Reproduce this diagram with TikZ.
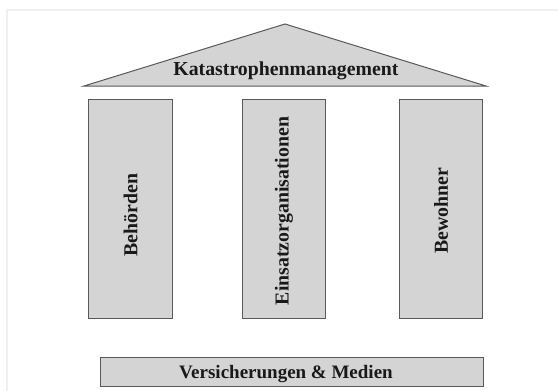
\documentclass[tikz,border=0pt]{standalone}
\usepackage{fontspec}
\setmainfont{Liberation Serif}
\begin{document}
\begin{tikzpicture}[x=1pt,y=-1pt,
  part/.style={draw=black!65, fill=black!17, line width=1pt},
  lbl/.style={font=\bfseries\fontsize{19.8}{22}\selectfont, text=black!90, inner sep=0pt},
  pillar/.style={part, minimum width=84pt, minimum height=219pt, anchor=north west, inner sep=0pt}]
\useasboundingbox (0,0) rectangle (558,391);
\fill[white] (0,0) rectangle (558,391);
\draw[black!6, line width=2pt] (7,391) -- (7,10) -- (558,10);
\draw[part, line join=miter] (84,86) coordinate (rl) -- (285,24) coordinate (ra) -- (486,86) coordinate (rr) -- cycle;
\node[lbl, anchor=base] (roof) at (286,75) {Katastrophenmanagement};
\node[pillar] (p1) at (88,99) {};
\node[pillar, minimum width=83pt] (p2) at (242,99) {};
\node[pillar, minimum width=83pt] (p3) at (399,99) {};
\node[lbl, rotate=90] (t1) at ([yshift=-6pt]p1.center) {Behörden};
\node[lbl, rotate=90] (t2) at ([yshift=-2pt]p2.center) {Einsatzorganisationen};
\node[lbl, rotate=90] (t3) at ([yshift=-2pt]p3.center) {Bewohner};
\node[part, minimum width=383pt, minimum height=29pt, anchor=north west, inner sep=0pt] (base) at (100,357) {};
\node[lbl, font=\bfseries\fontsize{19}{21}\selectfont, anchor=base] (bt) at (286,378) {Versicherungen \& Medien};
\end{tikzpicture}
\end{document}
